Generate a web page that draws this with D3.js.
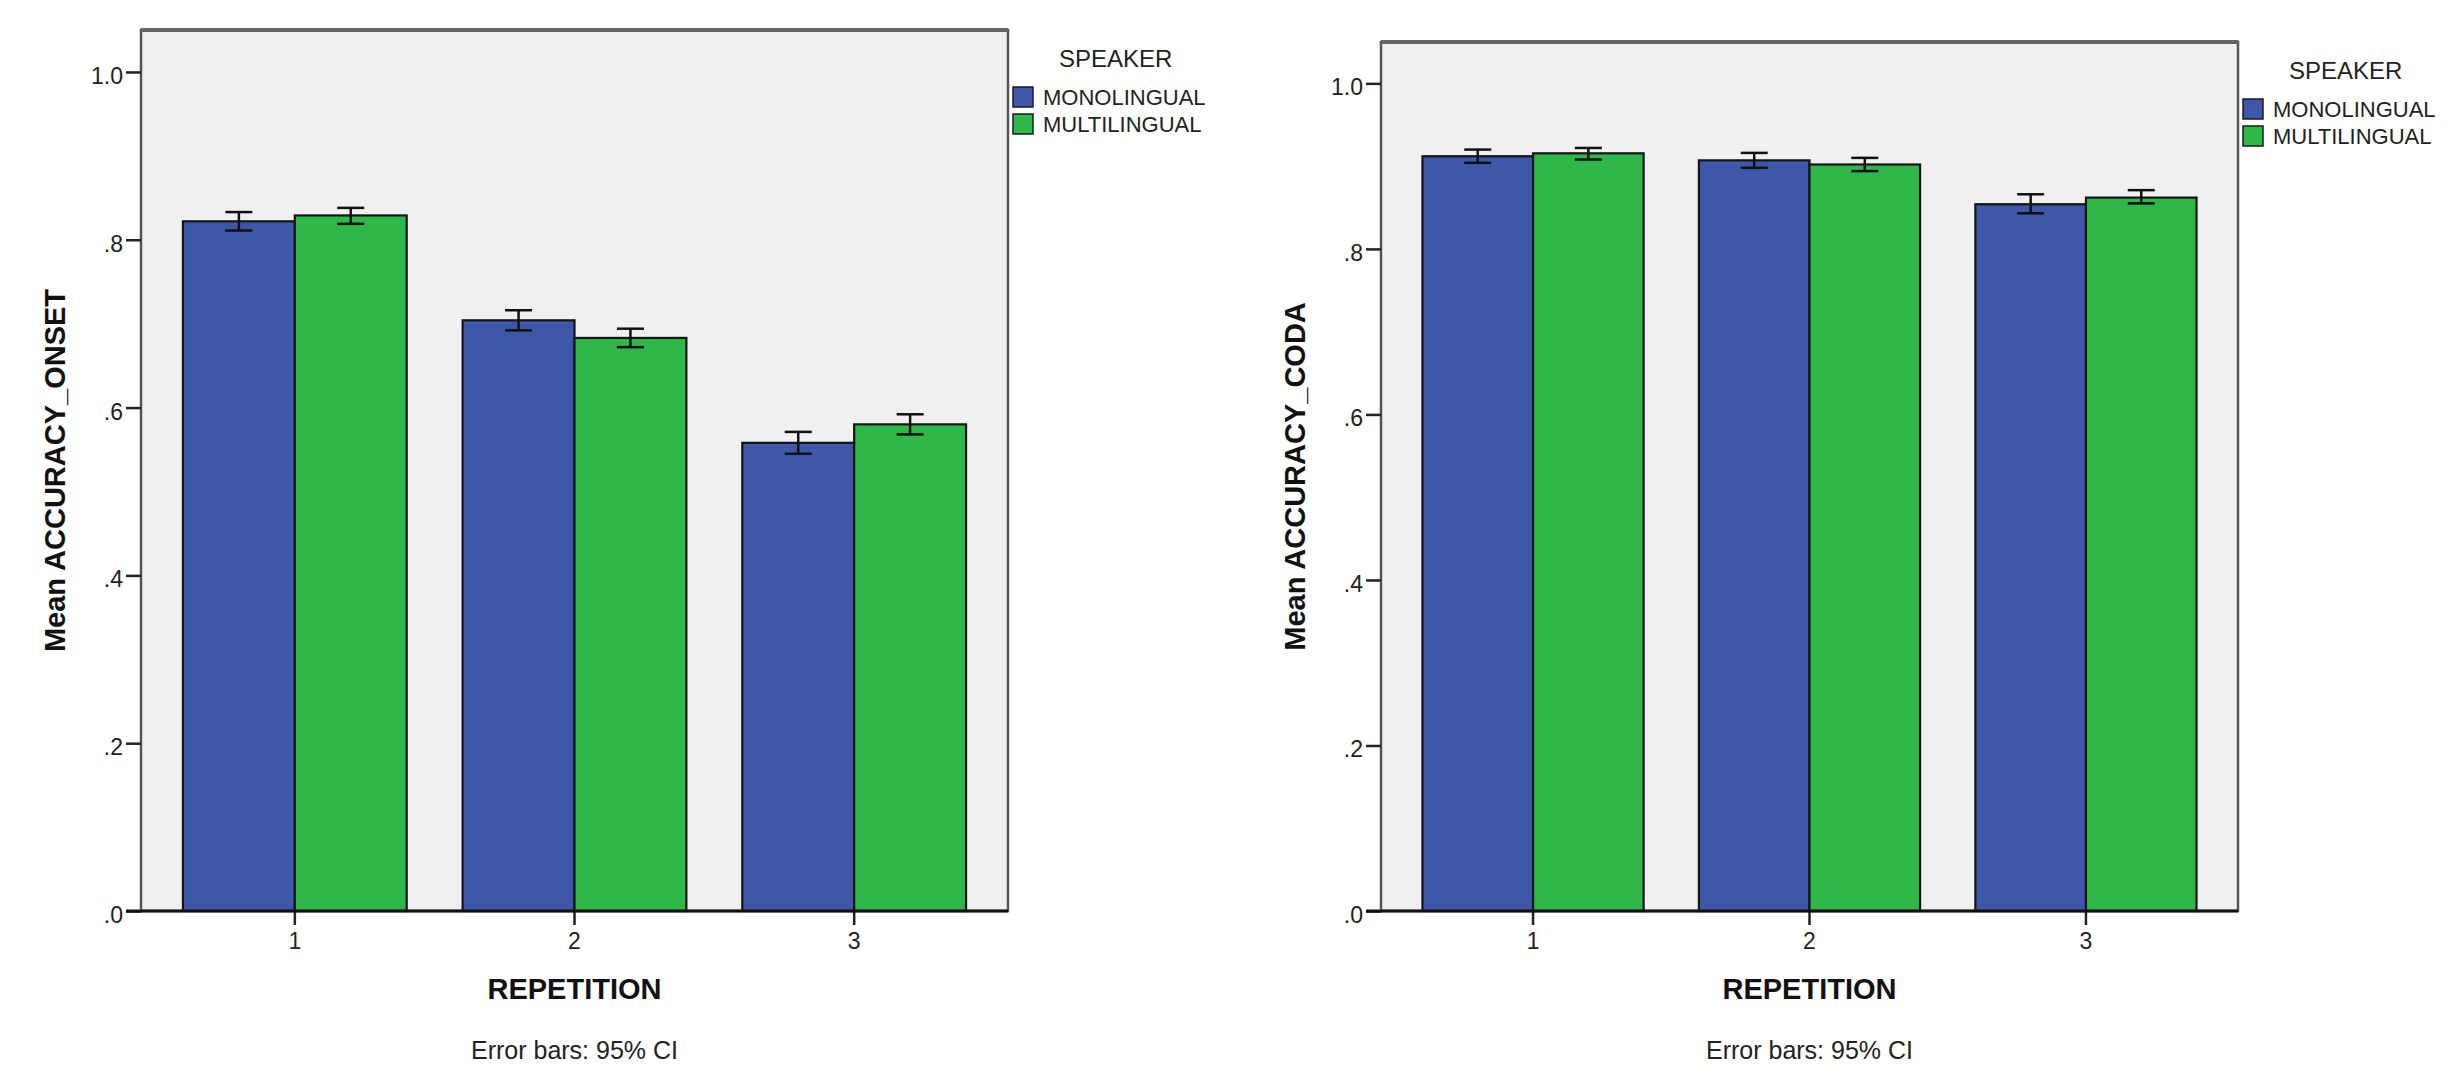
<!DOCTYPE html>
<html>
<head>
<meta charset="utf-8">
<script src="https://cdn.jsdelivr.net/npm/d3@7/dist/d3.min.js"></script>
<style>
  html, body { margin: 0; padding: 0; background: #ffffff; }
  svg { display: block; font-family: "Liberation Sans", Arial, sans-serif; }
</style>
</head>
<body>
<svg id="chart" width="2464" height="1065"></svg>
<script>
// ---- data ----
const categories = ["1", "2", "3"];
const seriesNames = ["MONOLINGUAL", "MULTILINGUAL"];
const legendTitle = "SPEAKER";
const xTitle = "REPETITION";
const footnote = "Error bars: 95% CI";
const yTickValues = [0, 0.2, 0.4, 0.6, 0.8, 1.0];
const yTickLabels = [".0", ".2", ".4", ".6", ".8", "1.0"];

const onsetTitle = "Mean ACCURACY_ONSET";
const onsetMono = [0.822, 0.704, 0.558];
const onsetMonoLo = [0.811, 0.692, 0.545];
const onsetMonoHi = [0.833, 0.716, 0.571];
const onsetMulti = [0.829, 0.683, 0.580];
const onsetMultiLo = [0.819, 0.672, 0.568];
const onsetMultiHi = [0.838, 0.694, 0.592];

const codaTitle = "Mean ACCURACY_CODA";
const codaMono = [0.912, 0.907, 0.854];
const codaMonoLo = [0.904, 0.898, 0.843];
const codaMonoHi = [0.920, 0.916, 0.866];
const codaMulti = [0.9155, 0.902, 0.862];
const codaMultiLo = [0.908, 0.894, 0.855];
const codaMultiHi = [0.922, 0.910, 0.871];

const colors = ["#3e57aa", "#2eb84a"];

// ---- drawing ----
const svg = d3.select("#chart");

function drawChart(cfg) {
  const { left, right, top, bottom, yTitle, mono, monoLo, monoHi, multi, multiLo, multiHi } = cfg;
  const g = svg.append("g");

  const y = d3.scaleLinear().domain([0, 1.05]).range([bottom, top]);
  const x0 = d3.scaleBand().domain(categories).range([left, right])
    .paddingInner(0.2).paddingOuter(0.15);
  const x1 = d3.scaleBand().domain(seriesNames).range([0, x0.bandwidth()]).padding(0);

  // plot background
  g.append("rect")
    .attr("x", left).attr("y", top)
    .attr("width", right - left).attr("height", bottom - top)
    .attr("fill", "#f0f0f0");

  const rows = categories.map((c, i) => ({
    cat: c,
    vals: [
      { s: seriesNames[0], v: mono[i], lo: monoLo[i], hi: monoHi[i] },
      { s: seriesNames[1], v: multi[i], lo: multiLo[i], hi: multiHi[i] }
    ]
  }));

  const groups = g.selectAll("g.grp").data(rows).join("g")
    .attr("class", "grp")
    .attr("transform", d => `translate(${x0(d.cat)},0)`);

  groups.selectAll("rect").data(d => d.vals).join("rect")
    .attr("x", d => x1(d.s))
    .attr("y", d => y(d.v))
    .attr("width", x1.bandwidth())
    .attr("height", d => y(0) - y(d.v))
    .attr("fill", (d, i) => colors[i])
    .attr("stroke", "#151515")
    .attr("stroke-width", 2.2);

  // error bars
  const capW = 27;
  const eb = groups.selectAll("g.eb").data(d => d.vals).join("g").attr("class", "eb")
    .attr("stroke", "#111").attr("stroke-width", 2.5);
  eb.append("line")
    .attr("x1", d => x1(d.s) + x1.bandwidth() / 2).attr("x2", d => x1(d.s) + x1.bandwidth() / 2)
    .attr("y1", d => y(d.lo)).attr("y2", d => y(d.hi));
  eb.append("line")
    .attr("x1", d => x1(d.s) + x1.bandwidth() / 2 - capW / 2).attr("x2", d => x1(d.s) + x1.bandwidth() / 2 + capW / 2)
    .attr("y1", d => y(d.hi)).attr("y2", d => y(d.hi));
  eb.append("line")
    .attr("x1", d => x1(d.s) + x1.bandwidth() / 2 - capW / 2).attr("x2", d => x1(d.s) + x1.bandwidth() / 2 + capW / 2)
    .attr("y1", d => y(d.lo)).attr("y2", d => y(d.lo));

  // frame
  g.append("rect")
    .attr("x", left).attr("y", top)
    .attr("width", right - left).attr("height", bottom - top)
    .attr("fill", "none").attr("stroke", "#555").attr("stroke-width", 2.5);
  g.append("line")
    .attr("x1", left).attr("x2", right).attr("y1", top).attr("y2", top)
    .attr("stroke", "#666").attr("stroke-width", 4);

  // y axis
  const yAxis = d3.axisLeft(y).tickValues(yTickValues)
    .tickFormat((d, i) => yTickLabels[i]).tickSize(15).tickPadding(3);
  const ya = g.append("g").attr("transform", `translate(${left},0)`).call(yAxis);
  ya.select(".domain").remove();
  ya.selectAll(".tick line").attr("stroke", "#222").attr("stroke-width", 2.5);
  ya.selectAll(".tick text").attr("font-size", 23).attr("fill", "#222")
    .attr("font-family", "'Liberation Sans', Arial, sans-serif").attr("dy", "0.5em");

  // x axis
  const xAxis = d3.axisBottom(x0).tickSize(14).tickPadding(8);
  const xa = g.append("g").attr("transform", `translate(0,${bottom})`).call(xAxis);
  xa.select(".domain").remove();
  xa.selectAll(".tick line").attr("stroke", "#222").attr("stroke-width", 2.5);
  xa.selectAll(".tick text").attr("font-size", 23).attr("fill", "#222")
    .attr("font-family", "'Liberation Sans', Arial, sans-serif");
  g.append("line")
    .attr("x1", left - 15).attr("x2", right).attr("y1", bottom).attr("y2", bottom)
    .attr("stroke", "#111").attr("stroke-width", 3);

  // titles
  g.append("text")
    .attr("x", (left + right) / 2).attr("y", 999)
    .attr("text-anchor", "middle").attr("font-size", 29).attr("font-weight", "bold")
    .attr("fill", "#111").text(xTitle);
  g.append("text")
    .attr("transform", `translate(${left - 76},${(top + bottom) / 2}) rotate(-90)`)
    .attr("text-anchor", "middle").attr("font-size", 29).attr("font-weight", "bold")
    .attr("fill", "#111").text(yTitle);
  g.append("text")
    .attr("x", (left + right) / 2).attr("y", 1059)
    .attr("text-anchor", "middle").attr("font-size", 25)
    .attr("fill", "#222").text(footnote);

  // legend
  const lg = g.append("g").attr("transform", `translate(${right + 5},${top})`);
  lg.append("text").attr("x", 46).attr("y", 37).attr("font-size", 24).attr("fill", "#222").text(legendTitle);
  const items = lg.selectAll("g.item").data(seriesNames).join("g").attr("class", "item")
    .attr("transform", (d, i) => `translate(0,${57 + i * 27})`);
  items.append("rect").attr("width", 20).attr("height", 20)
    .attr("fill", (d, i) => colors[i]).attr("stroke", "#1b1b1b").attr("stroke-width", 1.5);
  items.append("text").attr("x", 30).attr("y", 18).attr("font-size", 22).attr("fill", "#222").text(d => d);
}

drawChart({
  left: 141, right: 1008, top: 30, bottom: 911, yTitle: onsetTitle,
  mono: onsetMono, monoLo: onsetMonoLo, monoHi: onsetMonoHi,
  multi: onsetMulti, multiLo: onsetMultiLo, multiHi: onsetMultiHi
});
drawChart({
  left: 1381, right: 2238, top: 42, bottom: 911, yTitle: codaTitle,
  mono: codaMono, monoLo: codaMonoLo, monoHi: codaMonoHi,
  multi: codaMulti, multiLo: codaMultiLo, multiHi: codaMultiHi
});
</script>
</body>
</html>
